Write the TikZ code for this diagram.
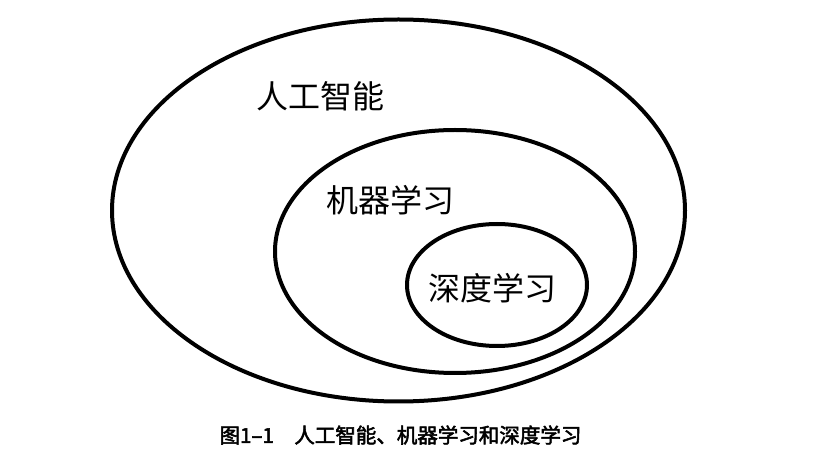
\documentclass[tikz,border=0pt]{standalone}
\usepackage{fontspec}
\newfontfamily\cjk{Noto Sans CJK SC}
\newfontfamily\cjkbold{Noto Sans CJK SC}[FakeBold=2.5]
\begin{document}
\begin{tikzpicture}[x=1pt,y=-1pt,
  ring/.style={line width=4pt, black},
  lbl/.style={font=\cjk\fontsize{32}{32}\selectfont, inner sep=0pt},
  captext/.style={font=\cjkbold\fontsize{20.5}{20.5}\selectfont, inner sep=0pt}]
\useasboundingbox (0,0) rectangle (828,454);
\fill[white] (0,0) rectangle (828,454);
\draw[ring] (398.5,210.5) ellipse [x radius=286.5, y radius=191];
\draw[ring] (455,251.5) ellipse [x radius=180, y radius=121.5];
\draw[ring] (497,285) ellipse [x radius=90, y radius=61];
\node[lbl] (ai) at (320,96) {人工智能};
\node[lbl] (ml) at (390,200) {机器学习};
\node[lbl] (dl) at (492,288) {深度学习};
\node[captext] (caption) at (400.5,435) {图1–1　人工智能、机器学习和深度学习};
\end{tikzpicture}
\end{document}
